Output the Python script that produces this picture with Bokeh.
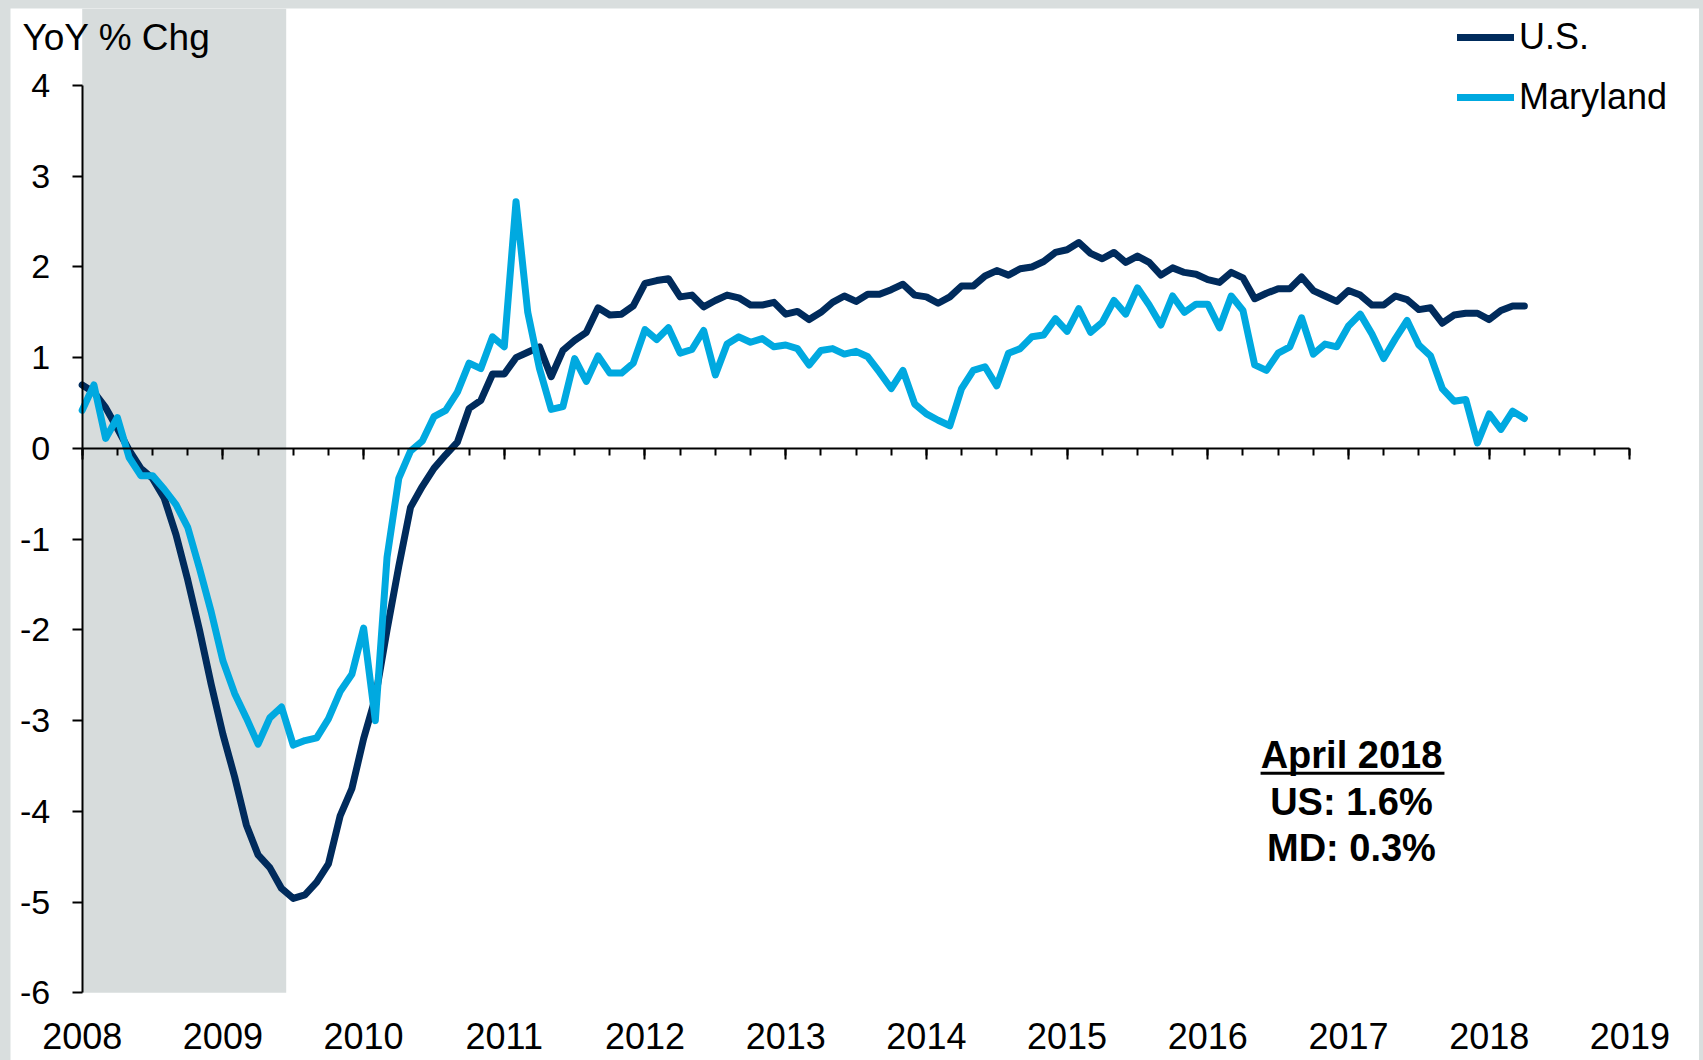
from bokeh.plotting import figure
from bokeh.models import (Range1d, LinearAxis, FixedTicker, SingleIntervalTicker,
                          BoxAnnotation, Legend, LegendItem, Label, CustomJSTickFormatter,
                          Spacer)
from bokeh.layouts import column, row
from bokeh.embed import file_html
from bokeh.resources import INLINE

# ---------------- data ----------------
start_year = 2008  # monthly series, Jan 2008 .. Apr 2018
us = [0.70, 0.62, 0.45, 0.22, -0.02, -0.22, -0.33, -0.55, -0.95, -1.45,
      -2.00, -2.60, -3.15, -3.62, -4.15, -4.48, -4.62, -4.85, -4.96, -4.92,
      -4.78, -4.58, -4.05, -3.75, -3.20, -2.75, -2.00, -1.30, -0.65, -0.42,
      -0.22, -0.07, 0.07, 0.44, 0.53, 0.82, 0.82, 1.00, 1.06, 1.12,
      0.79, 1.08, 1.19, 1.28, 1.55, 1.47, 1.48, 1.57, 1.82, 1.85,
      1.87, 1.67, 1.69, 1.56, 1.63, 1.69, 1.66, 1.58, 1.58, 1.61,
      1.48, 1.51, 1.42, 1.50, 1.61, 1.68, 1.62, 1.70, 1.70, 1.75,
      1.81, 1.69, 1.67, 1.60, 1.67, 1.79, 1.79, 1.90, 1.96, 1.91,
      1.98, 2.00, 2.06, 2.16, 2.19, 2.27, 2.15, 2.09, 2.16, 2.05,
      2.12, 2.05, 1.91, 1.99, 1.94, 1.92, 1.86, 1.83, 1.94, 1.88,
      1.65, 1.71, 1.76, 1.76, 1.89, 1.74, 1.68, 1.62, 1.74, 1.69,
      1.58, 1.58, 1.68, 1.64, 1.53, 1.55, 1.38, 1.47, 1.49, 1.49,
      1.42, 1.52, 1.57, 1.57]
md = [0.42, 0.70, 0.11, 0.34, -0.10, -0.30, -0.30, -0.45, -0.62, -0.87,
      -1.32, -1.80, -2.34, -2.70, -2.97, -3.26, -2.97, -2.85, -3.27, -3.22,
      -3.19, -2.98, -2.68, -2.49, -1.98, -3.00, -1.20, -0.33, -0.03, 0.08,
      0.35, 0.42, 0.62, 0.94, 0.88, 1.23, 1.12, 2.72, 1.50, 0.88,
      0.43, 0.46, 0.99, 0.74, 1.02, 0.83, 0.83, 0.94, 1.31, 1.20,
      1.33, 1.05, 1.09, 1.30, 0.81, 1.15, 1.23, 1.17, 1.21, 1.12,
      1.14, 1.10, 0.92, 1.08, 1.10, 1.04, 1.07, 1.01, 0.84, 0.66,
      0.86, 0.49, 0.38, 0.31, 0.25, 0.66, 0.86, 0.90, 0.69, 1.05,
      1.10, 1.23, 1.25, 1.43, 1.29, 1.54, 1.28, 1.39, 1.63, 1.48,
      1.77, 1.58, 1.36, 1.68, 1.50, 1.59, 1.59, 1.33, 1.68, 1.52,
      0.92, 0.86, 1.05, 1.12, 1.44, 1.04, 1.15, 1.12, 1.35, 1.48,
      1.26, 0.99, 1.21, 1.41, 1.14, 1.02, 0.66, 0.52, 0.54, 0.06,
      0.38, 0.21, 0.41, 0.33]
months = [start_year + i / 12 for i in range(len(us))]

y_ticks = list(range(-6, 5))
x_ticks = list(range(2008, 2020))
recession = (2008.0, 2009.45)   # Dec 2007 - Jun 2009 (clipped at chart start)
series_names = ["U.S.", "Maryland"]
annot_title = "April 2018"
annot_lines = ["US: 1.6%", "MD: 0.3%"]
y_label = "YoY % Chg"

# ---------------- style ----------------
FONT = "Liberation Sans"
DARK = "#002B5C"
LIGHT = "#00A9E0"
SHADE = "#D7DCDC"
EDGE = "#D9DEDE"

p = figure(width=1689, height=1052, output_backend="svg", toolbar_location=None,
           x_range=Range1d(2007.4904, 2019.4947), y_range=Range1d(-6.7462, 4.8487),
           min_border_left=0, min_border_right=0, min_border_top=0,
           min_border_bottom=0, background_fill_color="white",
           border_fill_color="white", outline_line_color=None)
p.grid.visible = False

# bottom axis: year labels only (drawn under the y = -6 level)
xa = p.xaxis[0]
xa.fixed_location = -6
xa.ticker = FixedTicker(ticks=x_ticks)
xa.axis_line_color = None
xa.major_tick_line_color = None
xa.minor_tick_line_color = None
xa.major_tick_out = 0
xa.major_tick_in = 0
xa.major_label_text_font = FONT
xa.major_label_text_font_size = "36px"
xa.major_label_text_color = "black"
xa.major_label_standoff = 30

# zero line with quarterly ticks
zax = LinearAxis(fixed_location=0,
                 ticker=SingleIntervalTicker(interval=1, num_minor_ticks=4),
                 formatter=CustomJSTickFormatter(code="return ''"),
                 bounds=(2008, 2019), axis_line_width=2, axis_line_color="black",
                 major_tick_out=11, major_tick_in=0, minor_tick_out=7, minor_tick_in=0,
                 major_tick_line_width=2, minor_tick_line_width=2,
                 major_tick_line_color="black", minor_tick_line_color="black",
                 major_label_text_font_size="1px")
p.add_layout(zax, "below")

# y axis at 2008
ya = p.yaxis[0]
ya.fixed_location = 2008
ya.ticker = FixedTicker(ticks=y_ticks)
ya.formatter = CustomJSTickFormatter(code="return tick.toFixed(0)")
ya.bounds = (-6, 4)
ya.axis_line_width = 2
ya.axis_line_color = "black"
ya.major_tick_out = 10
ya.major_tick_in = 0
ya.major_tick_line_width = 2
ya.major_tick_line_color = "black"
ya.minor_tick_line_color = None
ya.major_label_text_font = FONT
ya.major_label_text_font_size = "34px"
ya.major_label_text_color = "black"
ya.major_label_standoff = 22

# recession shading
p.add_layout(BoxAnnotation(left=recession[0], right=recession[1], bottom=-6,
                           fill_color=SHADE, fill_alpha=1.0, line_color=None,
                           level="underlay"))

r_us = p.line(months, us, line_color=DARK, line_width=7,
              line_join="round", line_cap="round")
r_md = p.line(months, md, line_color=LIGHT, line_width=7,
              line_join="round", line_cap="round")

legend = Legend(items=[LegendItem(label=series_names[0], renderers=[r_us]),
                       LegendItem(label=series_names[1], renderers=[r_md])],
                location=(1447, 933), orientation="vertical", padding=0, margin=0,
                spacing=0, glyph_width=57, glyph_height=60, label_height=60,
                label_standoff=5, label_text_font=FONT, label_text_font_size="36px",
                label_text_color="black", border_line_color=None,
                background_fill_alpha=0)
p.add_layout(legend, "center")

p.add_layout(Label(x=2007.5757, y=4.526, text=y_label, text_font=FONT,
                   text_font_size="37px", text_align="left",
                   text_baseline="middle", text_color="black"))

ann_x = 2017.021
for txt, yv in zip([annot_title] + annot_lines, [-3.382, -3.900, -4.407]):
    p.add_layout(Label(x=ann_x, y=yv, text=txt, text_font=FONT,
                       text_font_style="bold", text_font_size="38px",
                       text_align="center", text_baseline="middle",
                       text_color="black"))
p.segment(x0=[2016.375], y0=[-3.58], x1=[2017.682], y1=[-3.58],
          line_color="black", line_width=3)

page = column(Spacer(width=1703, height=8, styles={"background-color": EDGE}),
              row(Spacer(width=10, height=1052, styles={"background-color": EDGE}),
                  p,
                  Spacer(width=4, height=1052, styles={"background-color": EDGE})),
              styles={"background-color": EDGE})

open("out.html", "w").write(file_html(page, INLINE))
